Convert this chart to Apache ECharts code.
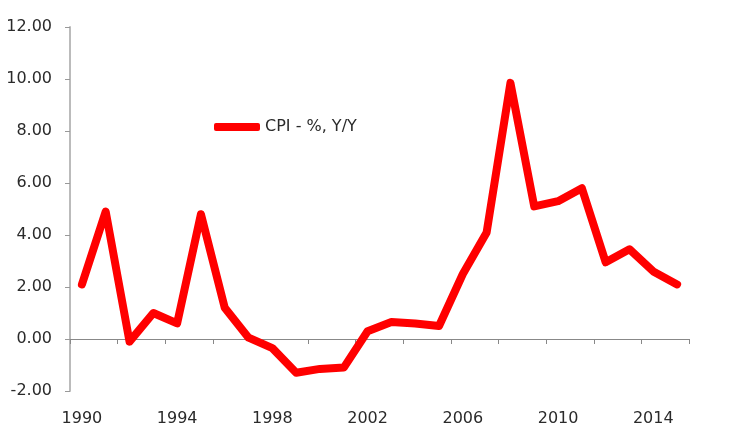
<!DOCTYPE html>
<html>
<head>
<meta charset="utf-8">
<script src="https://cdn.jsdelivr.net/npm/echarts@6/dist/echarts.min.js"></script>
<style>
  html, body { margin: 0; padding: 0; background: #fff; }
  #chart { width: 731px; height: 440px; }
</style>
</head>
<body>
<div id="chart"></div>
<script>
const years = ['1990', '1991', '1992', '1993', '1994', '1995', '1996', '1997', '1998', '1999',
  '2000', '2001', '2002', '2003', '2004', '2005', '2006', '2007', '2008', '2009',
  '2010', '2011', '2012', '2013', '2014', '2015'];
const cpi = [2.1, 4.9, -0.1, 1.0, 0.6, 4.8, 1.2, 0.05, -0.35, -1.3,
  -1.15, -1.1, 0.3, 0.65, 0.6, 0.5, 2.5, 4.1, 9.85, 5.1,
  5.3, 5.8, 2.95, 3.45, 2.6, 2.1];
const seriesName = 'CPI - %, Y/Y';

const chart = echarts.init(document.getElementById('chart'));
const font = 'DejaVu Sans';

chart.setOption({
  animation: false,
  grid: { left: 70, right: 42, top: 27, bottom: 49, containLabel: false },
  legend: {
    data: [seriesName],
    left: 209,
    top: 114,
    icon: 'roundRect',
    itemWidth: 46,
    itemHeight: 8,
    textStyle: { fontFamily: font, fontSize: 16, color: '#2a2a2a' }
  },
  xAxis: [
    {
      type: 'category',
      data: years,
      boundaryGap: true,
      position: 'top',
      axisLine: { onZero: true, lineStyle: { color: '#888', width: 1 } },
      axisTick: { show: true, inside: true, length: 5, lineStyle: { color: '#888' } },
      axisLabel: { show: false },
      splitLine: { show: false }
    },
    {
      type: 'category',
      data: years,
      boundaryGap: true,
      position: 'bottom',
      axisLine: { show: false, onZero: false },
      axisTick: { show: false },
      axisLabel: {
        interval: 3,
        margin: 20,
        fontFamily: font,
        fontSize: 16,
        color: '#2a2a2a'
      },
      splitLine: { show: false }
    }
  ],
  yAxis: {
    type: 'value',
    min: -2,
    max: 12,
    interval: 2,
    axisLine: { show: true, lineStyle: { color: '#bbb', width: 2 } },
    axisTick: { show: true, length: 5, lineStyle: { color: '#999' } },
    axisLabel: {
      margin: 18,
      fontFamily: font,
      fontSize: 16,
      color: '#2a2a2a',
      formatter: v => v.toFixed(2)
    },
    splitLine: { show: false }
  },
  series: [
    {
      name: seriesName,
      type: 'line',
      xAxisIndex: 0,
      data: cpi,
      symbol: 'none',
      lineStyle: { color: '#ff0000', width: 8, cap: 'round', join: 'round' },
      itemStyle: { color: '#ff0000' }
    }
  ]
});
</script>
</body>
</html>
